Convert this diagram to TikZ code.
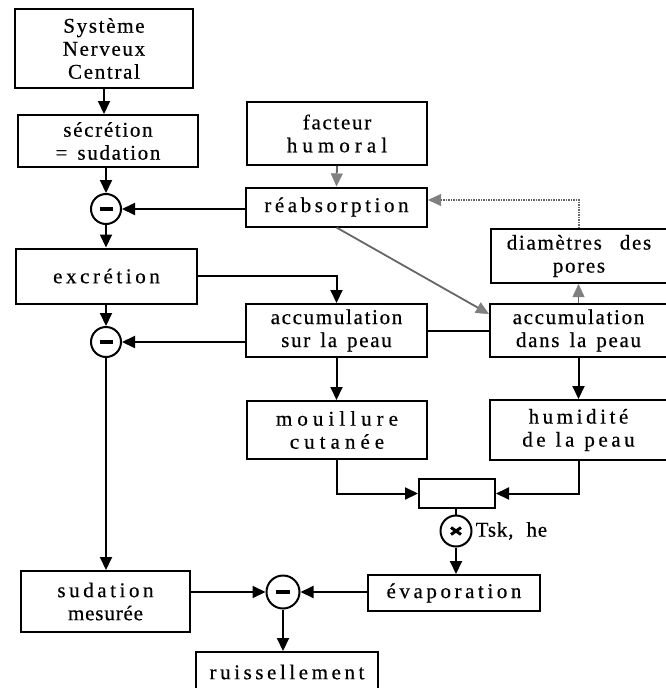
\documentclass[tikz,border=0pt]{standalone}
\usepackage{fontspec}
\setmainfont{Liberation Serif}
\newfontfamily\fsA[LetterSpace=8,FakeBold=0.5]{Liberation Serif}
\newfontfamily\fsB[LetterSpace=17,FakeBold=0.5]{Liberation Serif}
\newfontfamily\fsC[LetterSpace=24,FakeBold=0.5]{Liberation Serif}
\newfontfamily\fsD[LetterSpace=4,FakeBold=0.5]{Liberation Serif}
\newcommand\wsp{\hspace{10pt}}
\usetikzlibrary{arrows.meta,calc}
\begin{document}
\begin{tikzpicture}[x=1pt,y=-1pt,
  box/.style={draw, line width=2pt, rectangle, inner sep=0pt, align=center,
    font=\fsA\fontsize{21}{23}\selectfont},
  wide/.style={font=\fsB\fontsize{21}{23}\selectfont},
  op/.style={draw, circle, line width=2pt, inner sep=0pt},
  arr/.style={line width=2pt, -{Triangle[length=13pt,width=12pt]}},
  line/.style={line width=2pt},
  garr/.style={line width=1.8pt, draw=black!60, dash pattern=on 1.5pt off 1pt,
    -{Triangle[length=13pt,width=12pt,color=black!50,fill=black!50,line width=0.5pt]}},
  garrs/.style={line width=1.8pt, draw=black!60,
    -{Triangle[length=13pt,width=12pt,color=black!50,fill=black!50,line width=0.5pt]}}
]
\useasboundingbox (0,0) rectangle (665,688);

% left column
\node[box, minimum width=178pt, minimum height=79pt] (snc) at (104,48.5) {Système\\Nerveux\\Central};
\node[box, minimum width=180pt, minimum height=52pt] (secr) at (108,141) {sécrétion\\=\wsp sudation};
\node[op, minimum size=30pt] (m1) at (106,209) {\rule[-2pt]{13pt}{4pt}};
\node[box, wide, minimum width=181pt, minimum height=55pt] (excr) at (106.5,276) {excrétion};
\node[op, minimum size=30pt] (m2) at (106,342) {\rule[-2pt]{13pt}{4pt}};
\node[box, wide, minimum width=169pt, minimum height=61pt] (smes) at (105.5,601.5) {sudation\\{\fsD mesurée}};

% middle column
\node[box, minimum width=180pt, minimum height=63pt] (fact) at (337,133.5) {facteur\\{\fsC humoral}};
\node[box, wide, minimum width=181pt, minimum height=39pt] (reab) at (336.5,207) {réabsorption};
\node[box, minimum width=181pt, minimum height=53pt] (accsur) at (336.5,330.5) {accumulation\\sur\wsp la\wsp peau};
\node[box, font=\fsC\fontsize{21}{23}\selectfont, minimum width=180pt, minimum height=58pt] (mouil) at (337,430) {mouillure\\cutanée};

% right column
\node[box, minimum width=176pt, minimum height=54pt] (diam) at (579,256) {diamètres\hspace{18pt}des\\pores};
\node[box, minimum width=177pt, minimum height=53pt] (accdans) at (578.5,330.5) {accumulation\\dans\wsp la\wsp peau};
\node[box, wide, minimum width=177pt, minimum height=60pt] (humid) at (578.5,430) {humidité\\de\wsp la\wsp peau};

% bottom part
\node[box, minimum width=76pt, minimum height=29pt] (sbox) at (457,493.5) {};
\node[op, minimum size=31pt] (mx) at (456,531) {};
\draw[line width=3pt] ($(mx.center)+(-5,-3.5)$) -- ($(mx.center)+(5,3.5)$);
\draw[line width=3pt] ($(mx.center)+(-5,3.5)$) -- ($(mx.center)+(5,-3.5)$);
\node[anchor=west, inner sep=0pt, font=\fsD\fontsize{21}{23}\selectfont] (lab) at ($(mx.east)+(3,0)$) {Tsk,\hspace{13pt}he};
\node[box, wide, minimum width=172pt, minimum height=36pt] (evap) at (454,593) {évaporation};
\node[op, minimum size=33pt] (m3) at (283,592) {\rule[-2pt]{14pt}{4pt}};
\node[box, wide, minimum width=182pt, minimum height=40pt] (ruis) at (287,672) {ruissellement};

% connectors
\draw[arr] (snc.south) -- (snc.south |- secr.north);
\draw[arr] (m1.north |- secr.south) -- (m1.north);
\draw[arr] (m1.east -| reab.west) -- (m1.east);
\draw[arr] (m1.south) -- (m1.south |- excr.north);
\draw[arr] (excr.east) -| (accsur.north);
\draw[arr] (m2.north |- excr.south) -- (m2.north);
\draw[arr] (m2.east -| accsur.west) -- (m2.east);
\draw[arr] (m2.south) -- (m2.south |- smes.north);
\draw[line] (accsur.east) -- (accdans.west);
\draw[arr] (accsur.south) -- (accsur.south |- mouil.north);
\draw[arr] (accdans.south) -- (accdans.south |- humid.north);
\draw[arr] (mouil.south) |- (sbox.west);
\draw[arr] (humid.south) |- (sbox.east);
\draw[line] (mx.north |- sbox.south) -- (mx.north);
\draw[arr] (mx.south) -- (mx.south |- evap.north);
\draw[arr] (evap.west |- m3.east) -- (m3.east);
\draw[arr] (smes.east |- m3.west) -- (m3.west);
\draw[arr] (m3.south) -- (m3.south |- ruis.north);

% grey connectors
\draw[garrs] (fact.south) -- (reab.north);
\draw[garrs] (reab.south) -- ($(accdans.north west)!0.2!(accdans.south west)$);
\draw[garrs] (accdans.north) -- (accdans.north |- diam.south);
\coordinate (turn) at ($(diam.north)+(0,-28)$);
\draw[garr] (diam.north) -- (turn) -- (turn -| reab.east);
\end{tikzpicture}
\end{document}
